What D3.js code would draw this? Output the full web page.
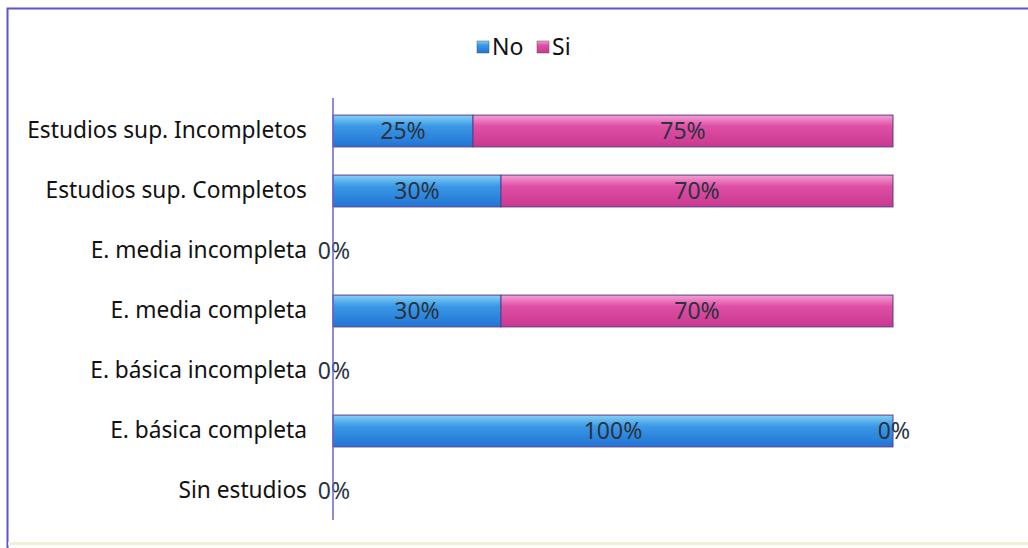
<!DOCTYPE html>
<html>
<head>
<meta charset="utf-8">
<script src="https://cdn.jsdelivr.net/npm/d3@7"></script>
<style>
  body { margin: 0; background: #fff; }
  svg { display: block; }
</style>
</head>
<body>
<svg id="chart" width="1028" height="548"></svg>
<script>
// categories from top to bottom
var categories = ["Estudios sup. Incompletos", "Estudios sup. Completos", "E. media incompleta",
                  "E. media completa", "E. básica incompleta", "E. básica completa", "Sin estudios"]
var noValues = [25, 30, 0, 30, 0, 100, 0]
var siValues = [75, 70, 0, 70, 0, 0, 0]
var seriesNames = ["No", "Si"]
var zeroLabelRows = ["E. media incompleta", "E. básica incompleta", "Sin estudios"]

var svg = d3.select("#chart")
var font = "'Noto Sans', sans-serif"

// frame
svg.append('path')
    .attr('d', 'M7.5,548 L7.5,8.5 L1028,8.5')
    .attr('fill', 'none')
    .attr('stroke', '#5b55c9')
    .attr('stroke-width', 2)
svg.append('line')
    .attr('x1', 8).attr('x2', 1028).attr('y1', 543.5).attr('y2', 543.5)
    .attr('stroke', '#f4f0d8').attr('stroke-width', 3)

var defs = svg.append('defs')
function grad(id, top, mid, bottom) {
    var g = defs.append('linearGradient').attr('id', id)
        .attr('x1', 0).attr('y1', 0).attr('x2', 0).attr('y2', 1)
    g.append('stop').attr('offset', '0%').attr('stop-color', top)
    g.append('stop').attr('offset', '35%').attr('stop-color', mid)
    g.append('stop').attr('offset', '100%').attr('stop-color', bottom)
}
grad('gNo', '#86d2f6', '#3a98e6', '#2273d3')
grad('gSi', '#f6a0d4', '#df4fa6', '#c8388e')
var colors = {No: 'url(#gNo)', Si: 'url(#gSi)'}

var x = d3.scaleLinear().domain([0, 100]).range([333, 893])
var y = d3.scaleBand().domain(categories).range([101, 521]).paddingInner(0.47).paddingOuter(0.235)

var rows = categories.map(function(c, i) {
    return {cat: c, No: noValues[i], Si: siValues[i]}
})
var stacked = d3.stack().keys(seriesNames)(rows)

stacked.forEach(function(layer) {
    var key = layer.key
    svg.append('g').selectAll('rect')
        .data(layer.filter(function(d) { return d[1] - d[0] > 0 }))
        .enter()
        .append('rect')
        .attr('x', function(d) { return x(d[0]) })
        .attr('y', function(d) { return y(d.data.cat) })
        .attr('width', function(d) { return x(d[1]) - x(d[0]) })
        .attr('height', y.bandwidth())
        .attr('fill', colors[key])
        .attr('stroke', '#5a3c8c')
        .attr('stroke-width', 1)

    svg.append('g').selectAll('text')
        .data(layer.filter(function(d) { return d[1] - d[0] > 0 }))
        .enter()
        .append('text')
        .attr('x', function(d) { return (x(d[0]) + x(d[1])) / 2 })
        .attr('y', function(d) { return y(d.data.cat) + y.bandwidth() / 2 })
        .attr('dy', '0.35em')
        .attr('text-anchor', 'middle')
        .attr('font-family', font)
        .attr('font-size', 23)
        .attr('fill', '#2b3340')
        .text(function(d) { return (d[1] - d[0]) + '%' })
})

// "0%" labels for empty rows and zero segment
var zeroLabels = []
rows.forEach(function(r) {
    if (zeroLabelRows.indexOf(r.cat) >= 0) zeroLabels.push({cat: r.cat, v: 0})
    else if (r.Si === 0) zeroLabels.push({cat: r.cat, v: r.No})
})
svg.append('g').selectAll('text')
    .data(zeroLabels)
    .enter()
    .append('text')
    .attr('x', function(d) { return x(d.v) + 1 })
    .attr('y', function(d) { return y(d.cat) + y.bandwidth() / 2 })
    .attr('dy', '0.35em')
    .attr('text-anchor', 'middle')
    .attr('font-family', font)
    .attr('font-size', 23)
    .attr('fill', '#2b3340')
    .text('0%')

// y axis
var yAxis = svg.append('g')
    .attr('transform', 'translate(333,0)')
    .call(d3.axisLeft(y).tickSize(0).tickPadding(26))
yAxis.select('.domain')
    .attr('d', 'M0,98V520')
    .attr('stroke', '#6a66c8')
    .attr('stroke-width', 1.5)
yAxis.selectAll('text')
    .attr('font-family', font)
    .attr('font-size', 22.7)
    .attr('fill', '#111')

// legend
var legend = svg.append('g')
var legendX = [477, 537]
seriesNames.forEach(function(s, i) {
    legend.append('rect')
        .attr('x', legendX[i]).attr('y', 41)
        .attr('width', 12).attr('height', 12)
        .attr('fill', colors[s])
        .attr('stroke', '#555')
        .attr('stroke-width', 0.5)
    legend.append('text')
        .attr('x', legendX[i] + 15).attr('y', 47)
        .attr('dy', '0.35em')
        .attr('font-family', font)
        .attr('font-size', 23)
        .attr('fill', '#111')
        .text(s)
})
</script>
</body>
</html>
